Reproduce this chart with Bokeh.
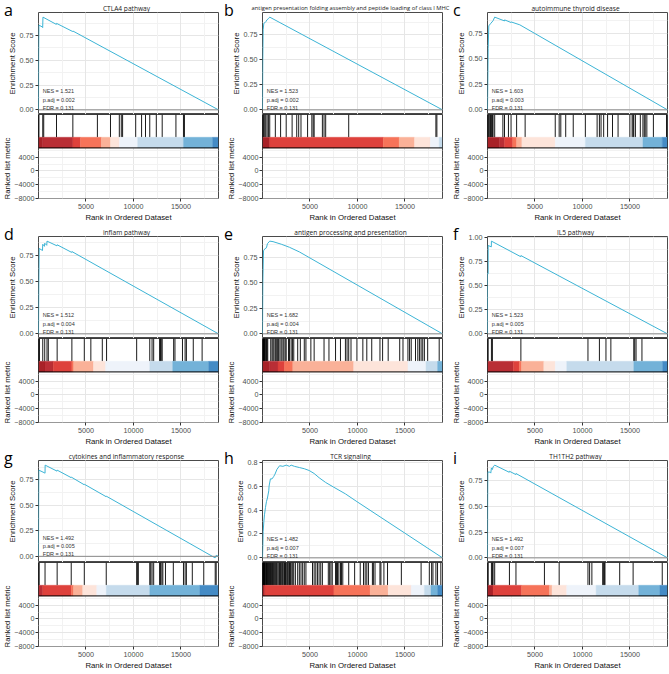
from bokeh.plotting import figure
from bokeh.layouts import column, row
from bokeh.models import (FixedTicker, Grid, Label, Span, Range1d, NumeralTickFormatter,
                          Div, Title)
from bokeh.embed import file_html
from bokeh.resources import INLINE

# ---------------- data ----------------
N_RANK = 18950
letters = ["a", "b", "c", "d", "e", "f", "g", "h", "i"]
titles = ["CTLA4 pathway",
          "antigen presentation folding assembly and peptide loading of class I MHC",
          "autoimmune thyroid disease",
          "inflam pathway",
          "antigen processing and presentation",
          "IL5 pathway",
          "cytokines and inflammatory response",
          "TCR signaling",
          "TH1TH2 pathway"]
nes = ["1.521", "1.523", "1.603", "1.512", "1.682", "1.523", "1.492", "1.482", "1.492"]
padj = ["0.002", "0.002", "0.003", "0.004", "0.004", "0.005", "0.005", "0.007", "0.007"]
fdr = ["0.131"] * 9

x_major = [5000, 10000, 15000]
x_minor = [2500, 7500, 12500, 17500]
es_major = [0.0, 0.25, 0.5, 0.75]
es_minor = [0.125, 0.375, 0.625, 0.875]
es_major_f = [0.0, 0.25, 0.5, 0.75, 1.0]
es_major_h = [0.0, 0.2, 0.4, 0.6, 0.8]
es_minor_h = [0.1, 0.3, 0.5, 0.7]
rank_major = [-8000, -4000, 0, 4000]
rank_minor = [-6000, -2000, 2000, 6000]
rank_lim = [-8100, 6800]

es_a_x = [1, 15, 40, 420, 440, 470, 1880, 1900, 3600, 3620, 18950]
es_a_y = [0, 0.55, 0.855, 0.835, 0.83, 0.935, 0.862, 0.872, 0.79, 0.795, 0]
hits_a = [10, 40, 448, 551, 1895, 3617, 6201, 7579, 8509, 8716, 8854, 10232, 10852,
          11265, 11713, 12402, 13022, 14469, 15261, 15365]
strip_a = [0, 448, 3617, 4410, 6614, 7579, 8509, 10439, 15261, 18327, 18950]
level_a = [0, 1, 2, 3, 4, 5, 6, 7, 8, 9]

es_b_x = [1, 30, 69, 140, 250, 350, 480, 620, 760, 18950]
es_b_y = [0, 0.5, 0.80, 0.865, 0.87, 0.88, 0.90, 0.91, 0.926, 0]
hits_b = [20, 69, 139, 242, 346, 485, 623, 762, 1351, 1905, 2494, 3118, 3603, 3810,
          4053, 4746, 5196, 5335, 5438, 6304, 6478, 6651, 9076, 18255, 18359]
strip_b = [0, 762, 12713, 14376, 16004, 17667, 18602, 18950]
level_b = [0, 2, 3, 4, 5, 6, 7]

es_c_x = [1, 69, 138, 310, 586, 758, 1790, 1800, 2470, 2490, 3400, 18950]
es_c_y = [0, 0.60, 0.82, 0.84, 0.87, 0.905, 0.868, 0.878, 0.853, 0.858, 0.83, 0]
hits_c = [10, 69, 138, 241, 310, 413, 517, 586, 758, 1619, 1791, 2205, 2480, 3066, 3962,
          7131, 7545, 7717, 8234, 9026, 10301, 11541, 11782, 11954, 12230, 12643, 13160,
          13746, 14986, 15227, 15330, 15399, 15572, 16088, 16364, 16501, 16605, 16777,
          17466, 18845]
strip_c = [0, 1275, 1791, 2653, 3066, 3617, 7131, 10301, 16364, 18397, 18950]
level_c = [0, 1, 2, 3, 4, 5, 6, 7, 8, 9]

es_d_x = [1, 34, 69, 420, 448, 630, 655, 870, 896, 1940, 1964, 3490, 3514, 18950]
es_d_y = [0, 0.50, 0.82, 0.80, 0.86, 0.84, 0.87, 0.85, 0.89, 0.845, 0.855, 0.782, 0.79, 0]
hits_d = [20, 103, 448, 655, 896, 1034, 1964, 3514, 4823, 5512, 6718, 7166, 10335, 11713,
          11954, 12126, 12747, 12850, 12919, 13022, 14228, 14366, 15158, 15434, 15571,
          16295, 17225]
strip_d = [0, 689, 1550, 3514, 3700, 5787, 7062, 11713, 14124, 17914, 18950]
level_d = [0, 1, 2, 3, 4, 5, 6, 7, 8, 9]

es_e_x = [1, 35, 104, 242, 416, 520, 762, 1108, 1974, 2840, 3880, 18950]
es_e_y = [0, 0.5, 0.81, 0.83, 0.84, 0.88, 0.905, 0.90, 0.875, 0.845, 0.80, 0]
hits_e = [35, 69, 104, 139, 173, 208, 277, 346, 416, 485, 554, 866, 1005, 1108, 1212,
          1351, 1455, 1593, 1697, 1836, 1974, 2148, 2252, 2390, 2494, 2737, 2840, 3014,
          3152, 3291, 3706, 3984, 4399, 4572, 5092, 5438, 6478, 6997, 7690, 8210, 8729,
          8902, 9076, 9318, 9942, 10565, 10981, 11500, 12366, 12644, 13232, 14445, 14791,
          15311, 15484, 15657, 16108, 16350, 16523, 16697, 16870, 17043, 17390, 18602]
strip_e = [0, 762, 1628, 2321, 3187, 9595, 15311, 17216, 18429, 18950]
level_e = [0, 1, 2, 3, 4, 5, 6, 7, 8]

es_f_x = [1, 2, 66, 69, 400, 413, 3500, 3514, 18950]
es_f_y = [0, 0.63, 0.625, 0.92, 0.905, 0.965, 0.803, 0.815, 0]
hits_f = [5, 69, 413, 517, 3514, 10576, 11782, 12471, 12988, 15399, 15502, 15640, 16260]
strip_f = [0, 2722, 3342, 3583, 5925, 7131, 8337, 15399, 18432, 18950]
level_f = [1, 2, 3, 4, 5, 6, 7, 8, 9]

es_g_x = [1, 17, 34, 600, 689, 700, 1950, 1964, 3430, 3445, 4810, 4823, 7120, 7131,
          18590, 18603, 18690, 18706, 18950]
es_g_y = [0, 0.55, 0.845, 0.82, 0.815, 0.894, 0.835, 0.845, 0.772, 0.777, 0.702, 0.707,
          0.585, 0.59, -0.015, -0.005, -0.008, 0.01, 0]
hits_g = [15, 69, 689, 1964, 3445, 4823, 7131, 10335, 10438, 10507, 11713, 11816, 11954,
          12126, 12747, 12850, 12988, 13091, 13367, 14194, 15262, 15434, 15571, 16192,
          17398, 18603, 18706]
strip_g = [0, 448, 3445, 3686, 4651, 6132, 7131, 11713, 16984, 18950]
level_g = [1, 2, 3, 4, 5, 6, 7, 8, 9]

es_h_x = [1, 35, 69, 139, 208, 312, 416, 520, 658, 693, 831, 1005, 1178, 1316, 1524,
          1801, 2148, 2494, 2840, 3014, 3360, 3880, 4399, 4919, 5438, 5958, 6651, 7517,
          8729, 9942, 18950]
es_h_y = [0, 0.10, 0.22, 0.30, 0.36, 0.42, 0.47, 0.50, 0.56, 0.60, 0.66, 0.66, 0.68,
          0.70, 0.74, 0.77, 0.765, 0.775, 0.765, 0.775, 0.765, 0.755, 0.745, 0.73, 0.705,
          0.67, 0.63, 0.59, 0.535, 0.47, 0]
hits_h = [5, 35, 69, 104, 139, 173, 208, 242, 277, 346, 416, 450, 520, 589, 658, 693, 762,
          831, 901, 970, 1039, 1108, 1178, 1282, 1351, 1455, 1524, 1628, 1732, 1801, 1905,
          1974, 2078, 2148, 2252, 2321, 2425, 2494, 2598, 2667, 2771, 2840, 2944, 3083,
          3187, 3291, 3464, 3706, 3880, 4053, 4226, 4399, 4572, 5265, 5438, 5612, 5785,
          5958, 6131, 6304, 6928, 7067, 7205, 7344, 7690, 7794, 7898, 8036, 8210, 8314,
          8452, 9076, 9699, 10288, 10634, 10808, 10981, 11154, 11570, 11674, 11847, 12366,
          12470, 12782, 13163, 14618, 16697, 17563, 17806, 17944, 18255, 18428, 18775]
strip_h = [0, 242, 7517, 11327, 13232, 15657, 17043, 17736, 18429, 18950]
level_h = [0, 2, 3, 4, 5, 6, 7, 8, 9]

es_i_x = [1, 17, 34, 241, 345, 413, 517, 586, 758, 2290, 2308, 2980, 2997, 18950]
es_i_y = [0, 0.55, 0.83, 0.83, 0.82, 0.87, 0.855, 0.88, 0.897, 0.828, 0.838, 0.806, 0.816, 0]
hits_i = [20, 69, 413, 517, 586, 758, 2308, 2997, 5994, 7545, 10576, 10749, 10990, 12126,
          12230, 12299, 12368, 13918, 15330, 18396]
strip_i = [0, 586, 3583, 6511, 6786, 8337, 11437, 15916, 18155, 18950]
level_i = [0, 2, 3, 4, 5, 6, 7, 8, 9]

# ---------------- style ----------------
PALETTE = ["#A3161C", "#B5232A", "#DC3731", "#F56C50", "#FAAD92", "#FDE3D8",
           "#EDF2FA", "#C2D9EB", "#6BAED6", "#3A85C2"]
CURVE = "#3CB4D5"
AX_FONT = "Liberation Sans"
LEFT = 35
FRAME_W = 183
RIGHTS = [6, 7, 2]
LETTER_LEFT = [4, 0, 4]
HEAD = 8
ES_TOP = 4
ES_H = 102
HITS_H = 35
RANK_H = 53
BOTTOM = 22
STRIP_FRAC = 0.32
GRID_MAJ = "#E6E6E6"
GRID_MIN = "#F2F2F2"
BORDER = "#4A4A4A"


def style_axis(ax, label):
    ax.axis_label = label
    ax.axis_label_text_font = AX_FONT
    ax.axis_label_text_font_size = "7.8px"
    ax.axis_label_text_font_style = "normal"
    ax.axis_label_text_color = "#111111"
    ax.axis_label_standoff = 0
    ax.major_label_text_font = AX_FONT
    ax.major_label_text_font_size = "7.2px"
    ax.major_label_text_color = "#4D4D4D"
    ax.major_label_standoff = 1
    ax.major_tick_in = 0
    ax.major_tick_out = 3
    ax.major_tick_line_color = "#333333"
    ax.minor_tick_line_color = None
    ax.axis_line_color = None


def header(k, w, title_size, letter_left):
    cx = LEFT + FRAME_W / 2
    html = (
        f'<div style="position:relative;width:{w}px;height:{HEAD}px;">'
        f'<span style="position:absolute;left:{letter_left}px;bottom:-6.3px;'
        f'font-family:\'Open Sans\';font-size:16px;line-height:16px;color:#000;">'
        f'{letters[k]}</span>'
        f'<span style="position:absolute;left:{cx}px;bottom:0px;transform:translateX(-50%);'
        f'white-space:nowrap;font-family:\'Open Sans\';font-size:{title_size};'
        f'line-height:7px;color:#1A1A1A;">{titles[k]}</span></div>'
    )
    return Div(text=html, width=w, height=HEAD, margin=0, styles={"overflow": "visible"})


def make_panel(k, es_x, es_y, hits, strip, levels, col, ticks, minor, fmt, title_size):
    rb = RIGHTS[col]
    w = LEFT + FRAME_W + rb
    lo = min(min(es_y), 0.0)
    hi = max(es_y)
    span = hi - lo
    yr = Range1d(lo - 0.05 * span, hi + 0.05 * span)
    xr = Range1d(0, N_RANK)

    # enrichment score panel
    p1 = figure(width=w, height=ES_TOP + ES_H, x_range=xr, y_range=yr,
                output_backend="svg", toolbar_location=None, x_axis_location=None,
                min_border_left=LEFT, min_border_right=rb, min_border_top=ES_TOP,
                min_border_bottom=0)
    p1.border_fill_color = None
    p1.outline_line_color = BORDER
    p1.outline_line_width = 1
    p1.yaxis.ticker = FixedTicker(ticks=ticks, minor_ticks=minor)
    p1.yaxis.formatter = NumeralTickFormatter(format=fmt)
    style_axis(p1.yaxis[0], "Enrichment Score")
    p1.ygrid.grid_line_color = GRID_MAJ
    p1.ygrid.minor_grid_line_color = GRID_MIN
    p1.add_layout(Grid(dimension=0, ticker=FixedTicker(ticks=x_major, minor_ticks=x_minor),
                       grid_line_color=GRID_MAJ, minor_grid_line_color=GRID_MIN))
    p1.add_layout(Span(location=0, dimension="width", line_color="#8A8A8A", line_width=1))
    p1.line(es_x, es_y, line_color=CURVE, line_width=1)
    stats = ["NES = " + nes[k], "p.adj = " + padj[k], "FDR = " + fdr[k]]
    for s, off in zip(stats, [18.7, 10.1, 2.0]):
        p1.add_layout(Label(x=450, y=0, y_offset=off, text=s, text_font=AX_FONT,
                            text_font_size="5.5px", text_baseline="middle",
                            text_color="#333333"))

    # hits band + ranked list panel (one frame, rank scale below, hits band on top)
    per_px = (rank_lim[1] - rank_lim[0]) / RANK_H
    band_lo = rank_lim[1]
    band_hi = rank_lim[1] + HITS_H * per_px
    strip_hi = band_lo + STRIP_FRAC * (band_hi - band_lo)
    p3 = figure(width=w, height=HITS_H + RANK_H + BOTTOM, x_range=xr,
                y_range=Range1d(rank_lim[0], band_hi),
                output_backend="svg", toolbar_location=None,
                min_border_left=LEFT, min_border_right=rb, min_border_top=0,
                min_border_bottom=BOTTOM)
    p3.border_fill_color = None
    p3.outline_line_color = BORDER
    p3.outline_line_width = 1
    p3.xaxis.ticker = FixedTicker(ticks=x_major, minor_ticks=x_minor)
    p3.yaxis.ticker = FixedTicker(ticks=rank_major, minor_ticks=rank_minor)
    ya = p3.yaxis[0]
    style_axis(ya, "")
    ya.axis_label = None
    ya.major_label_standoff = 0
    p3.add_layout(Title(text="Ranked list metric", align="left", offset=-1, standoff=0,
                        text_font=AX_FONT, text_font_size="7.8px",
                        text_font_style="normal", text_color="#111111"), "left")
    xa = p3.xaxis[0]
    style_axis(xa, "Rank in Ordered Dataset")
    xa.axis_label_standoff = 1
    for g in (p3.xgrid[0], p3.ygrid[0]):
        g.grid_line_color = GRID_MAJ
        g.minor_grid_line_color = GRID_MIN
    # white band hides grid in hits area
    p3.quad(left=[0], right=[N_RANK], bottom=[band_lo], top=[band_hi],
            fill_color="white", line_color=None)
    p3.segment(x0=hits, y0=[strip_hi] * len(hits), x1=hits, y1=[band_hi] * len(hits),
               line_color="#000000", line_width=0.9)
    cols = [PALETTE[v] for v in levels]
    p3.quad(left=strip[:-1], right=strip[1:], bottom=band_lo, top=strip_hi,
            fill_color=cols, line_color=cols, line_width=0.3, fill_alpha=0.95)
    p3.quad(left=[0], right=[N_RANK], bottom=[band_lo], top=[band_hi],
            fill_color=None, line_color="#000000", line_width=1)
    return column(header(k, w, title_size, LETTER_LEFT[col]), p1, p3, spacing=0)


specs = [
    (es_a_x, es_a_y, hits_a, strip_a, level_a, es_major, es_minor, "0.00", "6.6px"),
    (es_b_x, es_b_y, hits_b, strip_b, level_b, es_major, es_minor, "0.00", "5.8px"),
    (es_c_x, es_c_y, hits_c, strip_c, level_c, es_major, es_minor, "0.00", "6.6px"),
    (es_d_x, es_d_y, hits_d, strip_d, level_d, es_major, es_minor, "0.00", "6.6px"),
    (es_e_x, es_e_y, hits_e, strip_e, level_e, es_major, es_minor, "0.00", "6.6px"),
    (es_f_x, es_f_y, hits_f, strip_f, level_f, es_major_f, es_minor, "0.00", "6.6px"),
    (es_g_x, es_g_y, hits_g, strip_g, level_g, es_major, es_minor, "0.00", "6.6px"),
    (es_h_x, es_h_y, hits_h, strip_h, level_h, es_major_h, es_minor_h, "0.0", "6.6px"),
    (es_i_x, es_i_y, hits_i, strip_i, level_i, es_major, es_minor, "0.00", "6.6px"),
]

panels = []
for k, sp in enumerate(specs):
    ex, ey, hx, st, lv, tk, mn, fm, ts = sp
    panels.append(make_panel(k, ex, ey, hx, st, lv, k % 3, tk, mn, fm, ts))

layout = column(row(panels[0], panels[1], panels[2], spacing=0),
                row(panels[3], panels[4], panels[5], spacing=0),
                row(panels[6], panels[7], panels[8], spacing=0), spacing=0)

open("out.html", "w").write(file_html(layout, INLINE))
